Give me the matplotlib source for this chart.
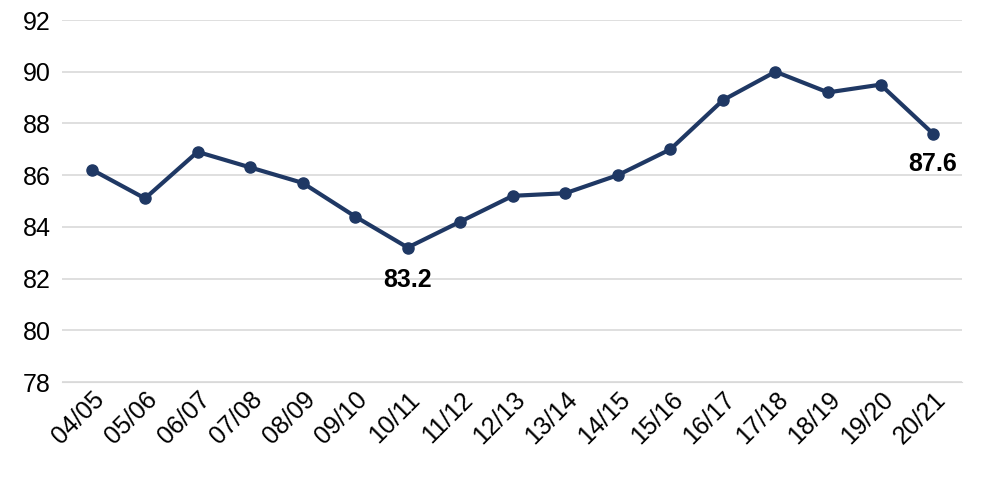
import matplotlib
matplotlib.use("Agg")
import matplotlib.pyplot as plt

years = ["04/05","05/06","06/07","07/08","08/09","09/10","10/11","11/12","12/13","13/14",
         "14/15","15/16","16/17","17/18","18/19","19/20","20/21"]
values = [86.2,85.1,86.9,86.3,85.7,84.4,83.2,84.2,85.2,85.3,86.0,87.0,88.9,90.0,89.2,89.5,87.6]

plt.rcParams['font.family'] = ['Liberation Sans', 'DejaVu Sans']
fig = plt.figure(figsize=(9.82, 4.79), dpi=100)
ax = fig.add_axes([62/982, 1-382/479, 900/982, 362/479])
color = "#1f3864"
x = list(range(len(years)))
ax.plot(x, values, color=color, lw=3, marker='o', ms=8, zorder=3)
ax.set_xlim(-0.58, len(years)-0.45)
ax.set_ylim(78, 92)
ax.set_yticks(range(78, 93, 2))
ax.grid(axis='y', color='#d9d9d9', lw=1.2)
ax.set_axisbelow(True)
for s in ['top','right','left']:
    ax.spines[s].set_visible(False)
ax.spines['bottom'].set_color('#d9d9d9')
ax.tick_params(axis='y', length=0, labelsize=18, pad=8)
ax.tick_params(axis='x', length=0, labelsize=18, pad=4)
ax.set_xticks(x)
ax.set_xticklabels(years, rotation=45, ha='right', rotation_mode='anchor')
i = years.index("10/11")
ax.annotate(f"{values[i]}", (x[i], values[i]), xytext=(0, -15), textcoords='offset points',
            ha='center', va='top', fontsize=18, fontweight='bold')
j = len(years)-1
ax.annotate(f"{values[j]}", (x[j], values[j]), xytext=(0, -13), textcoords='offset points',
            ha='center', va='top', fontsize=18, fontweight='bold')
fig.savefig("out.png", dpi=100)
